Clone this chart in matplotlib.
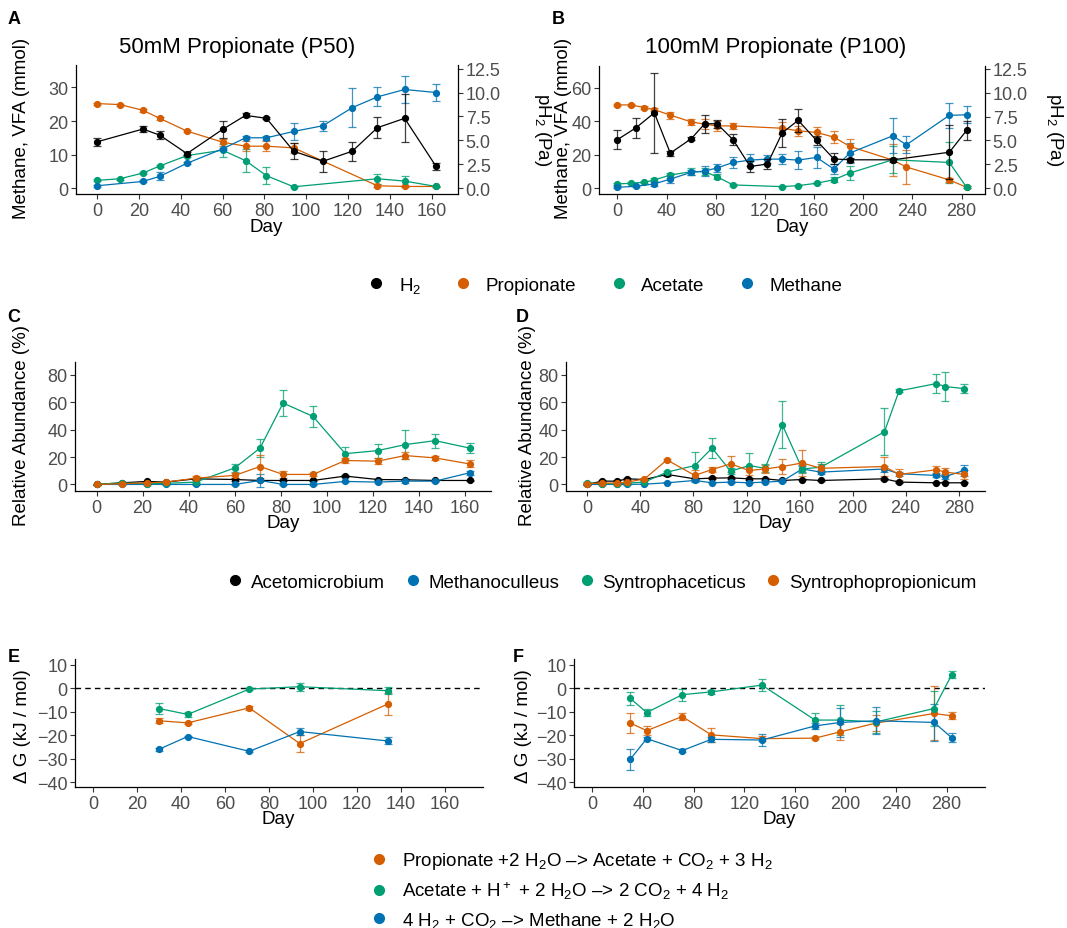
import numpy as np
import matplotlib.pyplot as plt
from matplotlib.lines import Line2D
from matplotlib.colors import to_rgba

plt.rcParams['font.family'] = ['Liberation Sans', 'DejaVu Sans']
plt.rcParams['mathtext.fontset'] = 'custom'
plt.rcParams['mathtext.rm'] = 'Liberation Sans'
plt.rcParams['mathtext.it'] = 'Liberation Sans:italic'
plt.rcParams['mathtext.bf'] = 'Liberation Sans:bold'

BLACK, ORANGE, GREEN, BLUE = '#000000', '#D55E00', '#009E73', '#0072B2'

# ---------------- Panel A: 50 mM propionate (mmol, H2 in Pa) ----------------
a_prop_day = [0, 11, 22, 30, 43, 60, 71, 81, 94, 134, 147, 162]
a_prop = [25.2, 24.9, 23.2, 20.8, 17.0, 13.7, 12.5, 12.5, 12.0, 0.7, 0.5, 0.5]
a_prop_err = [0.3, 0.3, 0.4, 0.4, 0.3, 1.0, 1.4, 1.5, 1.5, 0.4, 0.2, 0.2]
a_ace_day = [0, 11, 22, 30, 43, 60, 71, 81, 94, 134, 147, 162]
a_ace = [2.3, 2.8, 4.5, 6.6, 9.7, 11.3, 8.2, 3.7, 0.4, 2.8, 2.1, 0.5]
a_ace_err = [0.3, 0.3, 0.3, 0.4, 0.3, 2.0, 3.5, 2.5, 0.2, 1.5, 1.6, 0.2]
a_met_day = [0, 22, 30, 43, 60, 71, 81, 94, 108, 122, 134, 147, 162]
a_met = [0.7, 2.0, 3.5, 7.4, 11.7, 15.0, 15.0, 16.9, 18.6, 24.0, 27.2, 29.4, 28.5]
a_met_err = [0.3, 0.3, 1.2, 0.3, 0.4, 0.5, 0.6, 2.5, 1.5, 5.7, 2.8, 4.0, 2.5]
a_h2_day = [0, 22, 30, 43, 60, 71, 81, 94, 108, 122, 134, 147, 162]
a_h2 = [4.84, 6.18, 5.54, 3.61, 6.14, 7.61, 7.30, 3.86, 2.81, 3.86, 6.32, 7.30, 2.28]
a_h2_err = [0.4, 0.36, 0.43, 0.15, 0.9, 0.2, 0.1, 0.85, 1.1, 1.0, 1.1, 2.5, 0.4]

# ---------------- Panel B: 100 mM propionate ----------------
b_prop_day = [0, 11, 22, 30, 43, 60, 71, 81, 94, 134, 147, 162, 176, 189, 224, 235, 270, 284]
b_prop = [49.7, 49.7, 48.1, 46.9, 43.6, 39.6, 38.2, 37.2, 37.2, 35.8, 34.3, 33.3, 30.5, 25.0, 16.8, 12.7, 5.0, 0.6]
b_prop_err = [0.6, 0.5, 0.8, 1.0, 2.0, 2.0, 3.0, 3.0, 2.0, 3.5, 3.0, 3.0, 3.7, 4.5, 9.4, 10.0, 1.0, 0.5]
b_ace_day = [0, 11, 22, 30, 43, 60, 71, 81, 94, 134, 147, 162, 176, 189, 224, 270, 284]
b_ace = [2.6, 3.0, 3.6, 5.0, 7.9, 9.9, 9.9, 6.9, 2.0, 1.0, 1.6, 3.0, 5.1, 9.1, 17.0, 15.4, 0.6]
b_ace_err = [0.5, 0.5, 0.6, 1.0, 1.5, 2.0, 2.0, 1.5, 0.5, 0.4, 0.4, 0.6, 1.5, 4.0, 8.0, 12.0, 0.5]
b_met_day = [0, 15, 30, 43, 60, 71, 81, 94, 108, 122, 134, 147, 162, 176, 189, 224, 235, 270, 284]
b_met = [0.6, 1.2, 2.6, 5.5, 9.5, 10.3, 12.1, 15.4, 16.8, 17.4, 17.4, 16.8, 18.4, 11.5, 21.0, 31.3, 25.9, 43.5, 43.8]
b_met_err = [0.5, 0.6, 1.5, 2.5, 1.5, 3.0, 2.5, 3.5, 3.5, 2.5, 3.0, 5.5, 6.5, 3.0, 6.0, 10.5, 5.0, 7.5, 5.0]
b_h2_day = [0, 15, 30, 43, 60, 71, 81, 94, 108, 122, 134, 147, 162, 176, 189, 224, 270, 284]
b_h2 = [5.09, 6.32, 7.89, 3.68, 5.18, 6.75, 6.75, 5.09, 2.28, 2.54, 5.79, 7.11, 5.0, 3.07, 2.98, 2.98, 3.77, 6.05]
b_h2_err = [1.0, 1.05, 4.2, 0.26, 0.18, 0.95, 0.44, 0.61, 0.58, 0.53, 1.47, 1.23, 0.44, 0.58, 0.18, 0.18, 2.8, 0.96]

# ---------------- Panel C: relative abundance P50 ----------------
c_day = [0, 11, 22, 30, 43, 60, 71, 81, 94, 108, 122, 134, 147, 162]
c_aceto = [0.0, 1.2, 2.2, 1.7, 4.1, 3.6, 2.9, 2.9, 2.9, 6.1, 3.6, 3.4, 2.9, 2.9]
c_aceto_err = [0.3, 0.4, 0.4, 0.4, 0.8, 0.8, 0.5, 0.5, 0.5, 0.8, 0.5, 0.5, 0.4, 0.4]
c_metha = [0.0, 0.0, 0.0, 0.0, 0.0, 0.0, 2.9, 0.0, 0.0, 2.2, 1.7, 2.4, 2.4, 8.5]
c_metha_err = [0.1, 0.1, 0.1, 0.1, 0.1, 0.2, 5.0, 0.2, 0.2, 0.5, 0.5, 1.0, 0.5, 1.5]
c_syntroa = [0.0, 1.2, 0.5, 0.8, 1.7, 12.1, 26.6, 59.5, 49.7, 22.5, 24.7, 29.1, 32.0, 26.6]
c_syntroa_err = [0.2, 0.3, 0.3, 0.3, 0.4, 3.0, 6.5, 9.3, 7.8, 5.0, 5.2, 10.7, 5.2, 3.9]
c_syntrop = [0.0, 0.5, 1.2, 1.7, 4.6, 6.6, 13.1, 7.3, 7.3, 17.5, 17.0, 21.1, 19.4, 15.0]
c_syntrop_err = [0.2, 0.3, 0.3, 0.4, 1.5, 2.0, 8.5, 2.5, 1.0, 2.0, 2.0, 2.5, 1.2, 2.5]

# ---------------- Panel D: relative abundance P100 ----------------
d_day = [0, 11, 22, 30, 43, 60, 81, 94, 108, 122, 134, 147, 162, 176, 224, 235, 263, 270, 284]
d_aceto = [0.0, 2.4, 2.4, 4.1, 3.6, 7.3, 4.1, 4.6, 4.8, 4.1, 4.1, 2.9, 3.6, 2.9, 4.1, 1.7, 1.2, 1.2, 1.2]
d_aceto_err = [0.3, 0.5, 0.5, 0.8, 0.5, 0.8, 0.6, 0.6, 0.6, 0.5, 0.5, 0.5, 0.5, 0.5, 0.6, 0.4, 0.3, 0.3, 0.3]
d_metha = [0.0, 0.0, 0.0, 0.0, 0.2, 1.2, 2.9, 1.2, 1.7, 1.2, 1.7, 2.4, 11.3, 9.0, 11.3, 7.8, 6.6, 5.8, 10.2]
d_metha_err = [0.1, 0.1, 0.1, 0.1, 0.2, 0.4, 1.0, 0.5, 0.5, 0.5, 0.5, 0.8, 2.0, 1.5, 2.0, 1.5, 1.5, 1.5, 4.0]
d_syntroa = [1.2, 0.5, 0.5, 1.0, 1.7, 9.0, 13.8, 26.6, 9.7, 13.8, 11.8, 43.6, 11.3, 12.6, 38.5, 68.4, 73.7, 71.5, 70.1]
d_syntroa_err = [0.5, 0.3, 0.3, 0.4, 0.5, 1.0, 9.7, 7.3, 2.0, 9.0, 3.0, 17.3, 3.0, 3.5, 17.2, 1.0, 6.9, 10.8, 3.0]
d_syntrop = [0.5, 1.0, 1.0, 1.7, 4.0, 17.9, 6.6, 10.9, 15.0, 10.2, 11.3, 13.1, 15.7, 11.8, 13.1, 7.3, 10.7, 9.0, 7.3]
d_syntrop_err = [0.3, 0.4, 0.4, 0.5, 0.8, 1.0, 4.0, 2.0, 6.0, 3.0, 3.0, 5.8, 9.5, 3.0, 6.7, 4.0, 3.0, 3.0, 3.0]

# ---------------- Panel E / F: Gibbs free energy ----------------
e_day = [30, 43, 71, 94, 134]
e_prop = [-13.9, -14.8, -8.4, -23.6, -6.8]
e_prop_err = [1.0, 0.5, 0.8, 3.6, 4.6]
e_ace = [-8.7, -11.2, -0.4, 0.6, -1.1]
e_ace_err = [2.5, 1.2, 0.5, 1.7, 1.5]
e_met = [-26.0, -20.6, -26.9, -18.5, -22.5]
e_met_err = [0.7, 0.4, 0.5, 1.5, 1.5]

f_day = [30, 43, 71, 94, 134, 176, 196, 224, 270, 284]
f_prop = [-14.9, -18.1, -12.1, -19.9, -21.5, -21.3, -18.6, -14.9, -10.8, -11.8]
f_prop_err = [4.1, 2.0, 1.5, 3.0, 1.0, 0.5, 3.3, 3.5, 11.5, 1.5]
f_ace = [-4.4, -10.4, -2.8, -1.6, 1.3, -13.6, -13.6, -14.4, -8.7, 5.7]
f_ace_err = [2.7, 1.5, 2.5, 1.0, 2.5, 3.0, 6.4, 4.5, 7.5, 1.5]
f_met = [-30.3, -21.5, -26.6, -21.8, -22.1, -16.1, -14.6, -13.9, -14.6, -21.1]
f_met_err = [4.4, 0.5, 0.7, 1.2, 2.5, 1.2, 6.0, 5.7, 7.8, 2.0]

legend1_labels = ['H$_2$', 'Propionate', 'Acetate', 'Methane']
legend2_labels = ['Acetomicrobium', 'Methanoculleus', 'Syntrophaceticus', 'Syntrophopropionicum']
legend3_labels = ['Propionate +2 H$_2$O \u2013> Acetate + CO$_2$ + 3 H$_2$',
                  'Acetate + H$^+$ + 2 H$_2$O \u2013> 2 CO$_2$ + 4 H$_2$',
                  '4 H$_2$ + CO$_2$ \u2013> Methane + 2 H$_2$O']

W, H = 1067, 929
fig = plt.figure(figsize=(W / 100, H / 100), dpi=100)

TICK_FS = 13
LAB_FS = 13.5


def rect(l, t, r, b):
    return [l / W, 1 - b / H, (r - l) / W, (b - t) / H]


def ftext(x, y, s, **kw):
    fig.text(x / W, 1 - y / H, s, ha='center', va='center', **kw)


def style(ax, xlim, xticks, ylim, yticks):
    ax.set_xlim(*xlim)
    ax.set_ylim(*ylim)
    ax.set_xticks(xticks)
    ax.set_yticks(yticks)
    for s in ['top', 'right']:
        ax.spines[s].set_visible(False)
    for s in ['left', 'bottom']:
        ax.spines[s].set_linewidth(0.9)
    ax.tick_params(direction='out', length=3.5, width=0.8, color='#333333',
                   labelcolor='#4D4D4D', labelsize=TICK_FS, pad=2)
    ax.patch.set_alpha(0)


def right_axis(ax, k, ylim):
    ax2 = ax.twinx()
    ax2.set_ylim(ylim[0] / k, ylim[1] / k)
    ax2.set_yticks([0, 2.5, 5, 7.5, 10, 12.5])
    ax2.set_yticklabels(['0.0', '2.5', '5.0', '7.5', '10.0', '12.5'])
    for s in ['top', 'left', 'bottom']:
        ax2.spines[s].set_visible(False)
    ax2.spines['right'].set_linewidth(0.9)
    ax2.tick_params(direction='out', length=3.5, width=0.8, color='#333333',
                    labelcolor='#4D4D4D', labelsize=TICK_FS, pad=2)
    return ax2


def series(ax, x, y, err, color):
    ax.errorbar(x, y, yerr=err, color=color, lw=0.9, marker='o', ms=4.2,
                ecolor=to_rgba(color, 0.75), elinewidth=0.9, capsize=3, capthick=0.9)


# ---- A ----
ylimA = (-1.75, 36.7)
axA = fig.add_axes(rect(76, 66, 458, 195))
style(axA, (-10, 172.5), range(0, 161, 20), ylimA, [0, 10, 20, 30])
series(axA, a_prop_day, a_prop, a_prop_err, ORANGE)
series(axA, a_ace_day, a_ace, a_ace_err, GREEN)
series(axA, a_met_day, a_met, a_met_err, BLUE)
axA2 = right_axis(axA, 2.85, ylimA)
series(axA2, a_h2_day, a_h2, a_h2_err, BLACK)

# ---- B ----
ylimB = (-3.4, 72.9)
axB = fig.add_axes(rect(599, 67, 985, 195))
style(axB, (-15, 299), range(0, 281, 40), ylimB, [0, 20, 40, 60])
series(axB, b_prop_day, b_prop, b_prop_err, ORANGE)
series(axB, b_ace_day, b_ace, b_ace_err, GREEN)
series(axB, b_met_day, b_met, b_met_err, BLUE)
axB2 = right_axis(axB, 5.7, ylimB)
series(axB2, b_h2_day, b_h2, b_h2_err, BLACK)

# ---- C ----
axC = fig.add_axes(rect(75, 363, 491, 492))
style(axC, (-9.4, 171.3), range(0, 161, 20), (-4.8, 89.5), range(0, 81, 20))
series(axC, c_day, c_aceto, c_aceto_err, BLACK)
series(axC, c_day, c_metha, c_metha_err, BLUE)
series(axC, c_day, c_syntroa, c_syntroa_err, GREEN)
series(axC, c_day, c_syntrop, c_syntrop_err, ORANGE)

# ---- D ----
axD = fig.add_axes(rect(566, 363, 985, 492))
style(axD, (-16.1, 299.8), range(0, 281, 40), (-4.8, 89.5), range(0, 81, 20))
series(axD, d_day, d_aceto, d_aceto_err, BLACK)
series(axD, d_day, d_metha, d_metha_err, BLUE)
series(axD, d_day, d_syntroa, d_syntroa_err, GREEN)
series(axD, d_day, d_syntrop, d_syntrop_err, ORANGE)

# ---- E ----
axE = fig.add_axes(rect(75, 660, 483, 788))
style(axE, (-8.3, 177.4), range(0, 161, 20), (-42.1, 12.4), range(-40, 11, 10))
axE.axhline(0, color='black', ls='--', lw=1.0, dashes=(4, 3))
series(axE, e_day, e_prop, e_prop_err, ORANGE)
series(axE, e_day, e_ace, e_ace_err, GREEN)
series(axE, e_day, e_met, e_met_err, BLUE)

# ---- F ----
axF = fig.add_axes(rect(574, 660, 985, 788))
style(axF, (-14.5, 310.3), range(0, 281, 40), (-42.1, 12.4), range(-40, 11, 10))
axF.axhline(0, color='black', ls='--', lw=1.0, dashes=(4, 3))
series(axF, f_day, f_prop, f_prop_err, ORANGE)
series(axF, f_day, f_ace, f_ace_err, GREEN)
series(axF, f_day, f_met, f_met_err, BLUE)

# ---- text: panel letters, titles, axis labels ----
for letter, x, y in [('A', 14, 20), ('B', 558, 20), ('C', 14, 318),
                     ('D', 522, 318), ('E', 14, 658), ('F', 518, 658)]:
    ftext(x, y, letter, fontsize=13, fontweight='bold')
ftext(237, 48, '50mM Propionate (P50)', fontsize=16)
ftext(776, 48, '100mM Propionate (P100)', fontsize=16)

ftext(22, 128, 'Methane, VFA (mmol)', fontsize=LAB_FS, rotation=90)
ftext(543, 130, 'pH$_2$ (Pa)', fontsize=LAB_FS, rotation=270)
ftext(563, 128, 'Methane, VFA (mmol)', fontsize=LAB_FS, rotation=90)
ftext(1055, 130, 'pH$_2$ (Pa)', fontsize=LAB_FS, rotation=270)
ftext(266, 227, 'Day', fontsize=LAB_FS)
ftext(792, 227, 'Day', fontsize=LAB_FS)

ftext(22, 426, 'Relative Abundance (%)', fontsize=LAB_FS, rotation=90)
ftext(528, 426, 'Relative Abundance (%)', fontsize=LAB_FS, rotation=90)
ftext(283, 524, 'Day', fontsize=LAB_FS)
ftext(775, 524, 'Day', fontsize=LAB_FS)

ftext(23, 726, '\u0394 G (kJ / mol)', fontsize=LAB_FS, rotation=90)
ftext(524, 726, '\u0394 G (kJ / mol)', fontsize=LAB_FS, rotation=90)
ftext(278, 820, 'Day', fontsize=LAB_FS)
ftext(779, 820, 'Day', fontsize=LAB_FS)


# ---- legends ----
def dot(c):
    return Line2D([], [], ls='none', marker='o', ms=7, color=c)


fig.legend([dot(c) for c in [BLACK, ORANGE, GREEN, BLUE]], legend1_labels,
           loc='center left', bbox_to_anchor=(367 / W, 1 - 286 / H), ncol=4,
           frameon=False, fontsize=LAB_FS, handlelength=1.0, handletextpad=0.7,
           columnspacing=1.75, borderpad=0, borderaxespad=0)
fig.legend([dot(c) for c in [BLACK, BLUE, GREEN, ORANGE]], legend2_labels,
           loc='center left', bbox_to_anchor=(226 / W, 1 - 583 / H), ncol=4,
           frameon=False, fontsize=LAB_FS, handlelength=1.0, handletextpad=0.35,
           columnspacing=0.95, borderpad=0, borderaxespad=0)
fig.legend([dot(c) for c in [ORANGE, GREEN, BLUE]], legend3_labels,
           loc='center left', bbox_to_anchor=(370 / W, 1 - 891 / H), ncol=1,
           frameon=False, fontsize=LAB_FS, handlelength=1.0, handletextpad=0.7,
           labelspacing=0.45, borderpad=0, borderaxespad=0)

fig.savefig('out.png', dpi=100)
